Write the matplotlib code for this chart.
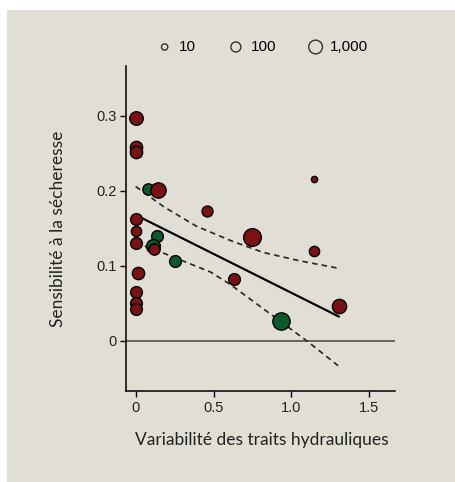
import numpy as np
import matplotlib
matplotlib.use("Agg")
import matplotlib.pyplot as plt
from matplotlib.patches import Rectangle

# ---- data ----
x_vals = [0.0, 0.0, 0.0, 0.081, 0.145, 0.456, 0.0, 0.0, 0.0, 0.140, 0.113, 0.119,
          0.252, 0.017, 0.0, 0.0, 0.0, 1.143, 0.749, 1.143, 0.633, 1.304, 0.931]
y_vals = [0.297, 0.259, 0.252, 0.202, 0.201, 0.173, 0.162, 0.146, 0.130, 0.140, 0.126, 0.123,
          0.106, 0.090, 0.065, 0.051, 0.043, 0.216, 0.138, 0.120, 0.082, 0.047, 0.026]
n_vals = [900, 420, 420, 225, 2700, 180, 300, 120, 300, 300, 1100, 225,
          300, 420, 300, 300, 300, 10, 12000, 120, 300, 1450, 9300]
groups = ['r', 'r', 'r', 'g', 'r', 'r', 'r', 'r', 'r', 'g', 'g', 'r',
          'g', 'r', 'r', 'r', 'r', 'r', 'r', 'r', 'r', 'r', 'g']

fit_x = [0.0, 1.31]
fit_y = [0.168, 0.032]
upper_x = [0.0, 0.18, 0.39, 0.62, 0.82, 1.05, 1.30]
upper_y = [0.206, 0.179, 0.153, 0.133, 0.118, 0.107, 0.097]
lower_x = [0.0, 0.18, 0.48, 0.61, 0.93, 1.10, 1.30]
lower_y = [0.131, 0.117, 0.092, 0.075, 0.026, 0.000, -0.033]

legend_n = [10, 100, 1000]
legend_labels = ['10', '100', '1,000']

xticks = [0, 0.5, 1.0, 1.5]
xticklabels = ['0', '0.5', '1.0', '1.5']
yticks = [0, 0.1, 0.2, 0.3]
yticklabels = ['0', '0.1', '0.2', '0.3']

# ---- style ----
BG = '#e1ded6'
RED = '#7a1214'
GREEN = '#0c5a2c'
colors = {'r': RED, 'g': GREEN}


def marker_area(n):
    r_px = 1.85 * np.log10(n) + 1.3
    d_pt = 2 * r_px * 0.72
    return d_pt ** 2


fig = plt.figure(figsize=(4.56, 4.82), dpi=100, facecolor='white')
fig.patches.append(Rectangle((7 / 456, 0), 1 - 7 / 456, 1 - 10 / 482,
                             transform=fig.transFigure, facecolor=BG,
                             edgecolor='none', zorder=-10))

ax = fig.add_axes([126 / 456, 1 - 391 / 482, 269 / 456, (391 - 65.7) / 482])
ax.set_facecolor('none')

ax.axhline(0, color='#444444', lw=1.1, zorder=1)

for i in range(len(x_vals)):
    ax.scatter(x_vals[i], y_vals[i], s=marker_area(n_vals[i]),
               facecolor=colors[groups[i]], edgecolor='black', linewidth=1.0,
               zorder=3 + i * 0.01)

ax.plot(fit_x, fit_y, color='black', lw=1.6, zorder=2, solid_capstyle='butt')
ax.plot(upper_x, upper_y, color='#2a2a2a', lw=1.25, ls=(0, (3.2, 2.4)), zorder=2)
ax.plot(lower_x, lower_y, color='#2a2a2a', lw=1.25, ls=(0, (3.2, 2.4)), zorder=2)

ax.set_xlim(-0.062, 1.665)
ax.set_ylim(-0.0667, 0.367)
ax.set_xticks(xticks)
ax.set_xticklabels(xticklabels)
ax.set_yticks(yticks)
ax.set_yticklabels(yticklabels)
for s in ['top', 'right']:
    ax.spines[s].set_visible(False)
for s in ['left', 'bottom']:
    ax.spines[s].set_linewidth(1.1)
    ax.spines[s].set_color('black')
ax.tick_params(direction='out', length=4.5, width=1.0, pad=2.5,
               labelsize=10.5, colors='black')
for lab in ax.get_xticklabels() + ax.get_yticklabels():
    lab.set_fontfamily('Liberation Sans')
    lab.set_color('#222222')

handles = [ax.scatter([], [], s=marker_area(n), facecolor='none',
                      edgecolor='#333333', linewidth=1.0) for n in legend_n]
leg = fig.legend(handles, legend_labels, ncol=3, frameon=False,
                 loc='center', bbox_to_anchor=(263 / 456, 1 - 47 / 482),
                 handlelength=0.9, handletextpad=0.5, columnspacing=2.15,
                 prop={'family': 'Liberation Sans', 'size': 11})

fig.text(58 / 456, 1 - 229 / 482, 'Sensibilité à la sécheresse', rotation=90,
         ha='center', va='center', family='Lato', fontsize=12.5, color='#222222')
fig.text(262 / 456, 1 - 440 / 482, 'Variabilité des traits hydrauliques',
         ha='center', va='center', family='Lato', fontsize=12.5, color='#222222')

fig.savefig('out.png', dpi=100, facecolor=fig.get_facecolor())
